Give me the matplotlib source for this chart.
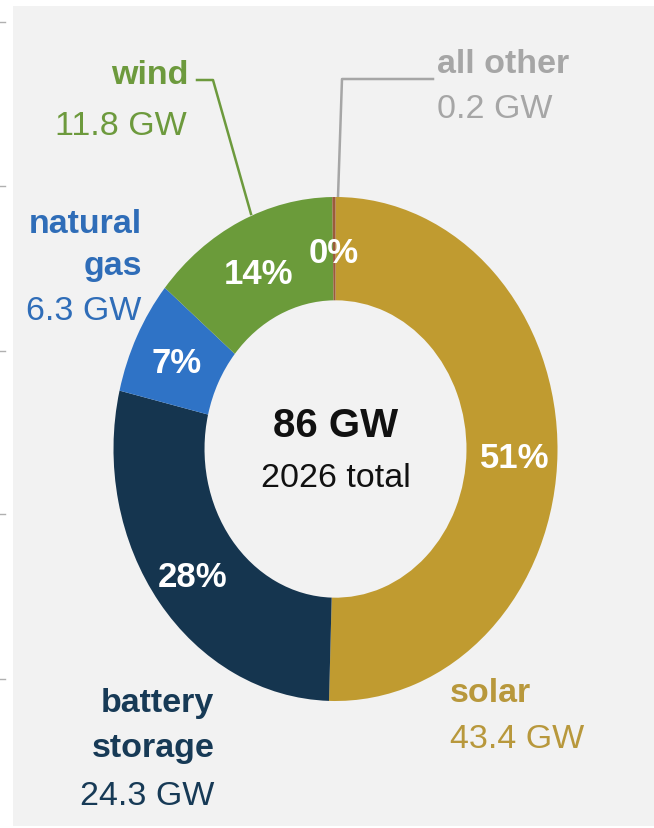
import matplotlib
matplotlib.use("Agg")
import matplotlib.pyplot as plt
from matplotlib.patches import Rectangle
from matplotlib.lines import Line2D

plt.rcParams['font.family'] = ['Liberation Sans', 'DejaVu Sans']

# ---- data ----
categories = ["solar", "battery storage", "natural gas", "wind", "all other"]
capacity_gw = [43.4, 24.3, 6.3, 11.8, 0.2]
pct_labels = ["51%", "28%", "7%", "14%", "0%"]
total_label = "86 GW"
total_sub = "2026 total"

# ---- styles ----
W, H = 654, 829
slice_colors = ["#c09b30", "#15354f", "#2f73c6", "#6b9b3a", "#9b5a3c"]
label_colors = {"solar": "#b8983c", "battery": "#173a56", "gas": "#2f6db8",
                "wind": "#6d9a3d", "other": "#a6a6a6"}

fig = plt.figure(figsize=(W / 100, H / 100), dpi=100)
fig.patch.set_facecolor("white")

def P(x, y):
    return (x / W, 1 - y / H)

# grey panel
fig.patches.append(Rectangle(P(13, 827), (W - 13) / W, (827 - 7) / H,
                             transform=fig.transFigure, facecolor="#f2f2f2",
                             edgecolor="none", zorder=-5))
# faint tick remnants at left edge
for ty in [23, 187, 352, 515, 680]:
    fig.lines.append(Line2D([0, 5 / W], [1 - ty / H] * 2, transform=fig.transFigure,
                            color="#b0b0b0", lw=1.0, zorder=-4))

ax = fig.add_axes([0, 0, 1, 1])
ax.set_zorder(1)
ax.set_facecolor("none")
cx, cy, rx, ry = 335.5, 450, 222, 252
ax.pie(capacity_gw, colors=slice_colors, startangle=90, counterclock=False,
       radius=1.0, wedgeprops=dict(width=0.41, edgecolor="none"))
ax.set_aspect("auto")
ax.set_xlim(-cx / rx, (W - cx) / rx)
ax.set_ylim(-(H - cy) / ry, cy / ry)
ax.axis("off")

def T(x, y, s, color, size, weight="normal", ha="left"):
    t = fig.text(*P(x, y), s, color=color, fontsize=size, fontweight=weight,
                 ha=ha, va="baseline")
    t.set_zorder(10)

# center text
T(336, 437, total_label, "#111111", 29, "bold", "center")
T(336, 487, total_sub, "#111111", 24.5, "normal", "center")

# percentage labels
pct_pos = [(515, 468), (193, 587), (177, 373), (258, 284), (334, 263)]
for (x, y), s in zip(pct_pos, pct_labels):
    T(x, y, s, "white", 25, "bold", "center")

# outer labels
fs = 24.5
T(188, 84, "wind", label_colors["wind"], fs, "bold", "right")
T(187, 135, f"{capacity_gw[3]} GW", label_colors["wind"], fs, "normal", "right")

T(437, 73, "all other", label_colors["other"], fs, "bold", "left")
T(437, 118, f"{capacity_gw[4]} GW", label_colors["other"], fs, "normal", "left")

T(142, 233, "natural", label_colors["gas"], fs, "bold", "right")
T(142, 275, "gas", label_colors["gas"], fs, "bold", "right")
T(141, 320, f"{capacity_gw[2]} GW", label_colors["gas"], fs, "normal", "right")

T(214, 712, "battery", label_colors["battery"], fs, "bold", "right")
T(215, 757, "storage", label_colors["battery"], fs, "bold", "right")
T(214, 805, f"{capacity_gw[1]} GW", label_colors["battery"], fs, "normal", "right")

T(450, 702, "solar", label_colors["solar"], fs, "bold", "left")
T(450, 748, f"{capacity_gw[0]} GW", label_colors["solar"], fs, "normal", "left")

# leader lines
def L(pts, color):
    xs = [p[0] / W for p in pts]
    ys = [1 - p[1] / H for p in pts]
    ln = Line2D(xs, ys, transform=fig.transFigure, color=color, lw=1.8, zorder=0.5)
    fig.lines.append(ln)

L([(197, 81), (213, 81), (251, 215)], label_colors["wind"])
L([(338, 198), (342, 80), (433, 80)], label_colors["other"])

fig.savefig("out.png", dpi=100)
